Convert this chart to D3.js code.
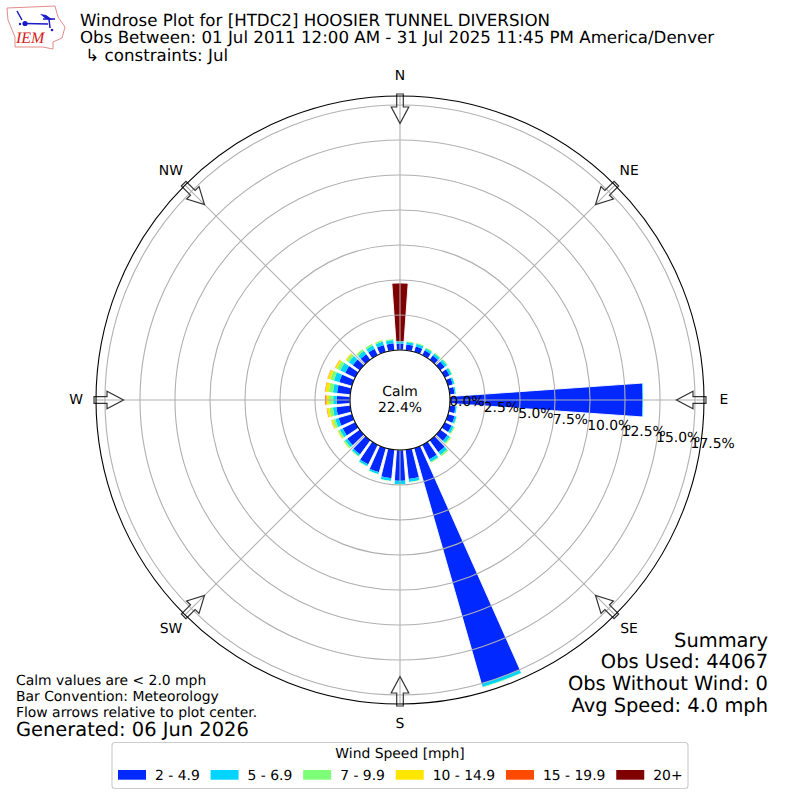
<!DOCTYPE html>
<html>
<head>
<meta charset="utf-8">
<script src="https://cdn.jsdelivr.net/npm/d3@7"></script>
<style>
  html, body { margin: 0; padding: 0; background: #fff; }
  text { font-family: "DejaVu Sans", sans-serif; fill: #000; text-rendering: geometricPrecision; }
</style>
</head>
<body>
<div id="chart"></div>
<script>
// wind direction of each bar, degrees
var directions = d3.range(0, 360, 10);

// percent of obs in each speed bin, one value per direction
var bin2to5 = [.45,.42,.42,.38,.37,.40,.38,.36,.35,13.75,.42,.50,.55,.65,1.05,1.15,17.5,2.1,
  2.2,2.05,1.8,1.55,1.25,1.1,1.0,1.0,1.0,.95,.95,.95,.8,.62,.5,.5,.52,.5];
var bin5to7 = [.17,.17,.19,.17,.18,.19,.17,.13,.10,.08,.10,.14,.17,.2,.25,.2,.25,.22,
  .24,.2,.15,.15,.15,.2,.22,.25,.25,.25,.3,.4,.4,.35,.28,.27,.25,.24];
var bin7to10 = [.02,.07,.08,.08,.08,.08,.07,.05,.04,0,.04,.06,.08,.1,.12,.08,.07,.05,
  .06,.04,.04,.05,.06,.12,.13,.18,.25,.3,.3,.27,.25,.2,.15,.14,.12,.09];
var bin10to15 = [0,.02,.02,.02,.02,.02,.02,.01,0,0,0,.01,.03,.05,.03,.02,0,0,
  0,0,0,.01,.02,.05,.08,.12,.18,.2,.25,.2,.15,.1,.04,.03,.03,.02];
var bin15to20 = [0,0,0,0,0,0,0,0,0,0,0,0,0,0,0,0,0,0,
  0,0,0,0,0,0,.01,.03,.05,.1,.05,.04,.04,.01,0,0,0,0];
var bin20up = [4.15,0,0,0,0,0,0,0,0,0,0,0,0,0,0,0,0,0,
  0,0,0,0,0,0,0,0,0,0,0,0,0,0,0,0,0,0];

var speedBins = ["2 - 4.9", "5 - 6.9", "7 - 9.9", "10 - 14.9", "15 - 19.9", "20+"];
var binColors = ["#0028ff", "#00d4ff", "#7dff7a", "#ffe600", "#ff4a00", "#7f0000"];
var rTicks = [0, 2.5, 5, 7.5, 10, 12.5, 15, 17.5];
var compassLabels = ["N", "NE", "E", "SE", "S", "SW", "W", "NW"];

var svg = d3.select("#chart").append("svg")
  .attr("width", 800)
  .attr("height", 800)
  .style("display", "block");

var cx = 400, cy = 400;
var innerR = 50, outerR = 304;
var barDeg = 8;

var rScale = d3.scaleLinear().domain([0, 18.14]).range([innerR, outerR]);
var rad = d => d * Math.PI / 180;

var rows = directions.map(function(d, i) {
  return { dir: d, b0: bin2to5[i], b1: bin5to7[i], b2: bin7to10[i], b3: bin10to15[i], b4: bin15to20[i], b5: bin20up[i] };
});
var keys = ["b0", "b1", "b2", "b3", "b4", "b5"];
var stacked = d3.stack().keys(keys)(rows);

var plot = svg.append("g").attr("transform", `translate(${cx}, ${cy})`);

// bars, stacked outward from the hole
var arc = d3.arc();
plot.selectAll("g.bin")
  .data(stacked)
  .enter()
  .append("g")
  .attr("class", "bin")
  .attr("fill", (d, i) => binColors[i])
  .selectAll("path")
  .data(d => d.filter(s => s[1] > s[0]))
  .enter()
  .append("path")
  .attr("d", function(s) {
    return arc({
      innerRadius: rScale(s[0]),
      outerRadius: rScale(s[1]),
      startAngle: rad(s.data.dir - barDeg / 2),
      endAngle: rad(s.data.dir + barDeg / 2)
    });
  });

// thin white edge round each whole bar
plot.selectAll("path.edge")
  .data(rows)
  .enter()
  .append("path")
  .attr("class", "edge")
  .attr("d", function(r) {
    return arc({
      innerRadius: rScale(0),
      outerRadius: rScale(d3.sum(keys, k => r[k])),
      startAngle: rad(r.dir - barDeg / 2),
      endAngle: rad(r.dir + barDeg / 2)
    });
  })
  .attr("fill", "none")
  .attr("stroke", "#fff")
  .attr("stroke-width", 0.9);

// grid goes over the bars
plot.selectAll("circle.ring")
  .data(rTicks.slice(1))
  .enter()
  .append("circle")
  .attr("class", "ring")
  .attr("r", d => rScale(d))
  .attr("fill", "none")
  .attr("stroke", "#b0b0b0")
  .attr("stroke-width", 1.1);

plot.selectAll("line.spoke")
  .data(compassLabels)
  .enter()
  .append("line")
  .attr("class", "spoke")
  .attr("x1", (d, i) => innerR * Math.sin(rad(i * 45)))
  .attr("y1", (d, i) => -innerR * Math.cos(rad(i * 45)))
  .attr("x2", (d, i) => outerR * Math.sin(rad(i * 45)))
  .attr("y2", (d, i) => -outerR * Math.cos(rad(i * 45)))
  .attr("stroke", "#b0b0b0")
  .attr("stroke-width", 1.1);

// hollow flow arrows, drawn pointing down from N then rotated
plot.selectAll("path.flow")
  .data(compassLabels)
  .enter()
  .append("path")
  .attr("class", "flow")
  .attr("d", `M-3.3,${-outerR - 2} L3.3,${-outerR - 2} L3.3,${-outerR + 11} L8.8,${-outerR + 11} L0,${-outerR + 27.5} L-8.8,${-outerR + 11} L-3.3,${-outerR + 11} Z`)
  .attr("transform", (d, i) => `rotate(${i * 45})`)
  .attr("fill", "none")
  .attr("stroke", "#333")
  .attr("stroke-width", 1.2);

plot.append("circle").attr("r", outerR).attr("fill", "none").attr("stroke", "#000").attr("stroke-width", 1.1);
plot.append("circle").attr("r", innerR).attr("fill", "#fff").attr("stroke", "#000").attr("stroke-width", 1.1);

plot.selectAll("text.compass")
  .data(compassLabels)
  .enter()
  .append("text")
  .attr("class", "compass")
  .attr("x", (d, i) => 324 * Math.sin(rad(i * 45)))
  .attr("y", (d, i) => -324 * Math.cos(rad(i * 45)))
  .attr("text-anchor", "middle")
  .attr("dominant-baseline", "central")
  .style("font-size", "13.9px")
  .text(d => d);

// radial tick labels sit along the 100 degree line
plot.selectAll("text.rtick")
  .data(rTicks)
  .enter()
  .append("text")
  .attr("class", "rtick")
  .attr("x", d => rScale(d) * Math.sin(rad(100)))
  .attr("y", d => -rScale(d) * Math.cos(rad(100)) - 3)
  .style("font-size", "13.9px")
  .text(d => d.toFixed(1) + "%");

plot.append("text").attr("text-anchor", "middle").attr("y", -4).style("font-size", "13.9px").text("Calm");
plot.append("text").attr("text-anchor", "middle").attr("y", 12).style("font-size", "13.9px").text("22.4%");

// titles
var titleLines = [
  "Windrose Plot for [HTDC2] HOOSIER TUNNEL DIVERSION",
  "Obs Between: 01 Jul 2011 12:00 AM - 31 Jul 2025 11:45 PM America/Denver",
  " \u21b3 constraints: Jul"
];
svg.selectAll("text.title")
  .data(titleLines)
  .enter()
  .append("text")
  .attr("class", "title")
  .attr("x", 80)
  .attr("y", (d, i) => 26 + i * 17.3)
  .attr("xml:space", "preserve")
  .style("white-space", "pre")
  .style("font-size", "16.67px")
  .text(d => d);

var summaryLines = ["Summary", "Obs Used: 44067", "Obs Without Wind: 0", "Avg Speed: 4.0 mph"];
svg.selectAll("text.summary")
  .data(summaryLines)
  .enter()
  .append("text")
  .attr("class", "summary")
  .attr("x", 768)
  .attr("y", (d, i) => 646.7 + i * 21.7)
  .attr("text-anchor", "end")
  .style("font-size", "19.44px")
  .text(d => d);

var noteLines = ["Calm values are < 2.0 mph", "Bar Convention: Meteorology", "Flow arrows relative to plot center."];
svg.selectAll("text.note")
  .data(noteLines)
  .enter()
  .append("text")
  .attr("class", "note")
  .attr("x", 16)
  .attr("y", (d, i) => 685 + i * 16)
  .style("font-size", "13.9px")
  .text(d => d);

svg.append("text").attr("x", 16).attr("y", 736).style("font-size", "19.44px").text("Generated: 06 Jun 2026");

// legend
svg.append("rect")
  .attr("x", 112).attr("y", 742.5)
  .attr("width", 576).attr("height", 46)
  .attr("rx", 3)
  .attr("fill", "#fff")
  .attr("stroke", "#ccc")
  .attr("stroke-width", 1.1);
svg.append("text").attr("x", 400).attr("y", 758).attr("text-anchor", "middle").style("font-size", "13.9px").text("Wind Speed [mph]");

var legendX = 118;
speedBins.forEach(function(label, i) {
  svg.append("rect").attr("x", legendX).attr("y", 770).attr("width", 28).attr("height", 9.7).attr("fill", binColors[i]);
  var t = svg.append("text").attr("x", legendX + 37).attr("y", 779.5).style("font-size", "13.9px").text(label);
  legendX += 37 + t.node().getComputedTextLength() + 10.8;
});

// IEM logo
var logo = svg.append("g");
logo.append("path")
  .attr("d", "M7,8 L55,6 L58,17 L65,27 L62,38 L53,42 L53,49 L43,47 L15,47 L15,37 L8,20 Z")
  .attr("fill", "none")
  .attr("stroke", "#e58b8b")
  .attr("stroke-width", 1);
logo.append("path")
  .attr("d", "M25,23.5 L48,24 M43,19 L55,19 M49,19 L50,28 M17,11 L22,20")
  .attr("fill", "none")
  .attr("stroke", "#1a1ac8")
  .attr("stroke-width", 1.5);
logo.append("path").attr("d", "M40,14 L46,15 L53,20 L46,19 Z").attr("fill", "#1a1ac8");
logo.append("circle").attr("cx", 25).attr("cy", 23.5).attr("r", 2.6).attr("fill", "#1a1ac8");
logo.append("circle").attr("cx", 20).attr("cy", 24).attr("r", 1.2).attr("fill", "#1a1ac8");
logo.append("circle").attr("cx", 52).attr("cy", 30).attr("r", 1.3).attr("fill", "#1a1ac8");
logo.append("text")
  .attr("x", 16).attr("y", 43)
  .style("font-family", "'Liberation Serif', serif")
  .style("font-style", "italic")
  .style("font-size", "16px")
  .style("fill", "#d42020")
  .text("IEM");
</script>
</body>
</html>
